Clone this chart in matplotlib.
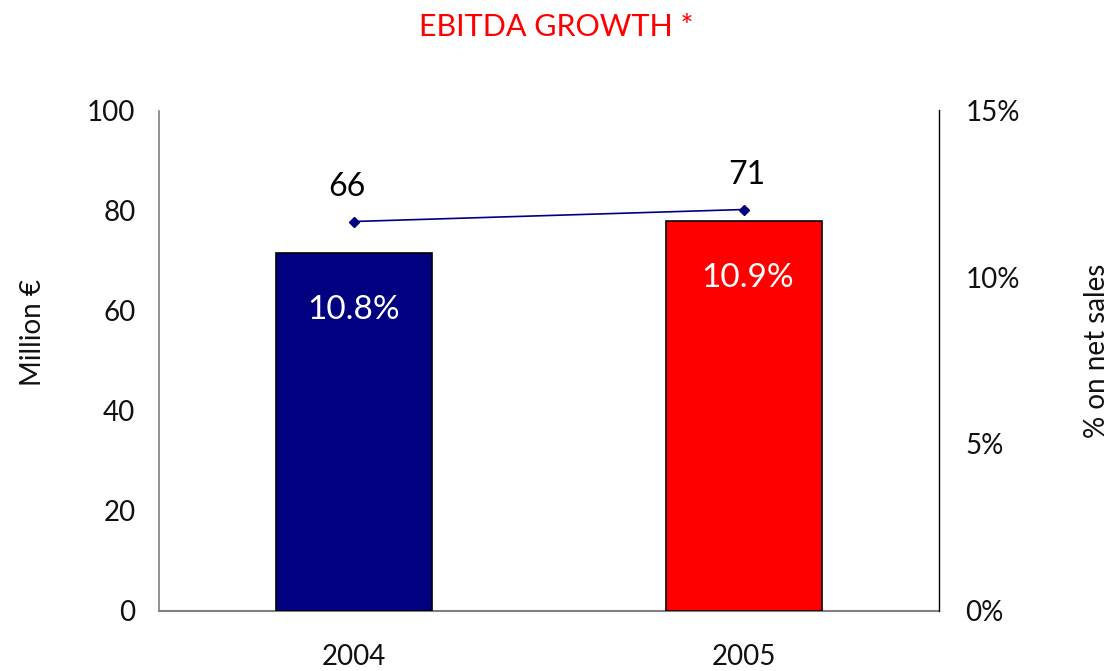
import matplotlib
matplotlib.use("Agg")
import matplotlib.pyplot as plt
from matplotlib.ticker import FuncFormatter

years = ["2004", "2005"]
ebitda_bars = [71.6, 78.0]          # Million €, left axis
margin_line = [11.67, 12.03]        # % on net sales, right axis
bar_labels = ["10.8%", "10.9%"]
line_labels = ["66", "71"]
bar_colors = ["#000080", "#ff0000"]

plt.rcParams["font.family"] = ["Lato", "DejaVu Sans"]

fig = plt.figure(figsize=(11.15, 6.71), dpi=100)
ax = fig.add_axes([159 / 1115, 1 - 610.5 / 671, 780 / 1115, 500 / 671])
ax2 = ax.twinx()

x = list(range(len(years)))
ax.bar(x, ebitda_bars, width=0.4, color=bar_colors, edgecolor="black",
       linewidth=1.2, zorder=3)
for xi, v, lab in zip(x, ebitda_bars, bar_labels):
    ax.text(xi + 0.01 * xi, v - 11.5, lab, color="white", fontsize=24,
            ha="center", va="center", zorder=4)

ax2.plot(x, margin_line, color="#000080", linewidth=1.2, marker="D",
         markersize=5, zorder=5)
for xi, v, lab in zip(x, margin_line, line_labels):
    ax2.annotate(lab, (xi, v), xytext=(-5 if xi == 0 else 2, 14),
                 textcoords="offset points", ha="center", va="bottom",
                 fontsize=23, color="black")

ax.set_xlim(-0.5, 1.5)
ax.set_ylim(0, 100)
ax2.set_ylim(0, 15)
ax.set_xticks(x)
ax.set_xticklabels(years)
ax.set_yticks([0, 20, 40, 60, 80, 100])
ax2.set_yticks([0, 5, 10, 15])
ax2.yaxis.set_major_formatter(FuncFormatter(lambda v, _: f"{v:.0f}%"))

ax.tick_params(axis="y", length=0, pad=17, labelsize=20, colors="#111111")
ax.tick_params(axis="x", length=0, pad=24, labelsize=20, colors="#111111")
ax2.tick_params(axis="y", length=0, pad=19, labelsize=20, colors="#111111")

for a in (ax, ax2):
    a.spines["top"].set_visible(False)
ax.spines["right"].set_visible(False)
ax.spines["left"].set_color("#808080")
ax.spines["bottom"].set_color("#808080")
ax.spines["left"].set_linewidth(1.2)
ax.spines["bottom"].set_linewidth(1.5)
ax2.spines["left"].set_visible(False)
ax2.spines["bottom"].set_visible(False)
ax2.spines["right"].set_color("black")
ax2.spines["right"].set_linewidth(1.0)

# axis titles placed in figure coordinates
fig.text(33 / 1115, 1 - 332 / 671, "Million €", rotation=90, fontsize=20,
         ha="center", va="center", color="#111111")
fig.text(1097 / 1115, 1 - 351 / 671, "% on net sales", rotation=90,
         fontsize=20, ha="center", va="center", color="#111111")

fig.text(556 / 1115, 1 - 27 / 671, "EBITDA GROWTH *", color="#ff0000",
         fontsize=22, ha="center", va="center")

fig.savefig("out.png", dpi=100, facecolor="white")
